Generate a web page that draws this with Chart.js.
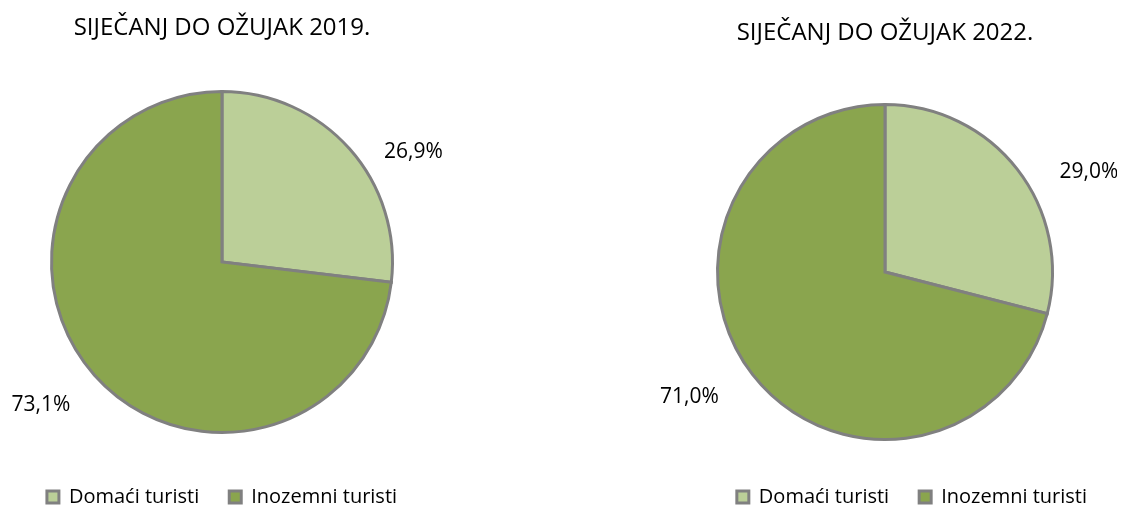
<!DOCTYPE html>
<html lang="hr">
<head>
<meta charset="utf-8">
<title>Domaći i inozemni turisti</title>
<script src="https://cdn.jsdelivr.net/npm/chart.js@4.4.1/dist/chart.umd.min.js"></script>
<style>
    html, body { margin: 0; padding: 0; background: #ffffff; overflow: hidden; }
    body { width: 1124px; height: 508px; position: relative; }
    .pie-box { position: absolute; top: 0; }
    #box2019 { left: 0px; }
    #box2022 { left: 653px; }
</style>
</head>
<body>
<div class="pie-box" id="box2019"><canvas id="pie2019" width="444" height="517"></canvas></div>
<div class="pie-box" id="box2022"><canvas id="pie2022" width="464" height="517"></canvas></div>
<script>
// Data
const categories = ['Domaći turisti', 'Inozemni turisti'];
const share2019 = [26.9, 73.1];
const share2022 = [29.0, 71.0];
const title2019 = 'SIJEČANJ DO OŽUJAK 2019.';
const title2022 = 'SIJEČANJ DO OŽUJAK 2022.';

// Styles
const sliceColors = ['#bbcf98', '#8aa54e'];
const edgeColor = '#808080';
const fontFamily = "'Open Sans', Lato, sans-serif";

// Format value as 26,9%
function formatShare(value) {
    return value.toFixed(1).replace('.', ',') + '%';
}

// Draws the percentage labels outside the slices
const sliceLabels = {
    id: 'sliceLabels',
    afterDatasetsDraw(chart, args, opts) {
        const ctx = chart.ctx;
        const meta = chart.getDatasetMeta(0);
        const values = chart.data.datasets[0].data;
        ctx.save();
        ctx.font = opts.size + 'px ' + fontFamily;
        ctx.fillStyle = '#000000';
        ctx.textAlign = 'center';
        ctx.textBaseline = 'middle';
        meta.data.forEach((arc, i) => {
            const off = opts.offsets[i];
            ctx.fillText(formatShare(values[i]), arc.x + off[0], arc.y + off[1]);
        });
        ctx.restore();
    }
};

function makePie(canvasId, title, values, radius, titlePad, legendAlign, labelOffsets) {
    const ctx = document.getElementById(canvasId).getContext('2d');
    return new Chart(ctx, {
        type: 'pie',
        data: {
            labels: categories,
            datasets: [{
                data: values,
                backgroundColor: sliceColors,
                borderColor: edgeColor,
                borderWidth: 3,
                borderJoinStyle: 'miter',
                radius: radius
            }]
        },
        options: {
            responsive: false,
            devicePixelRatio: 1,
            animation: false,
            events: [],
            layout: { padding: 0 },
            plugins: {
                title: {
                    display: true,
                    text: title,
                    color: '#000000',
                    font: { family: fontFamily, size: 24, weight: 'normal', lineHeight: 1.2 },
                    padding: titlePad
                },
                legend: {
                    position: 'bottom',
                    align: legendAlign,
                    labels: {
                        color: '#000000',
                        font: { family: fontFamily, size: 20 },
                        boxWidth: 12,
                        boxHeight: 12,
                        padding: 30
                    }
                },
                tooltip: { enabled: false },
                sliceLabels: { size: 21, offsets: labelOffsets }
            }
        },
        plugins: [sliceLabels]
    });
}

makePie('pie2019', title2019, share2019, 170.5, { top: 13.6, bottom: 24.6 }, 'center', [[191.5, -110], [-181, 143]]);
makePie('pie2022', title2022, share2022, 167.5, { top: 18.6, bottom: 39.6 }, 'end', [[204, -99.5], [-195.5, 125.5]]);
</script>
</body>
</html>
